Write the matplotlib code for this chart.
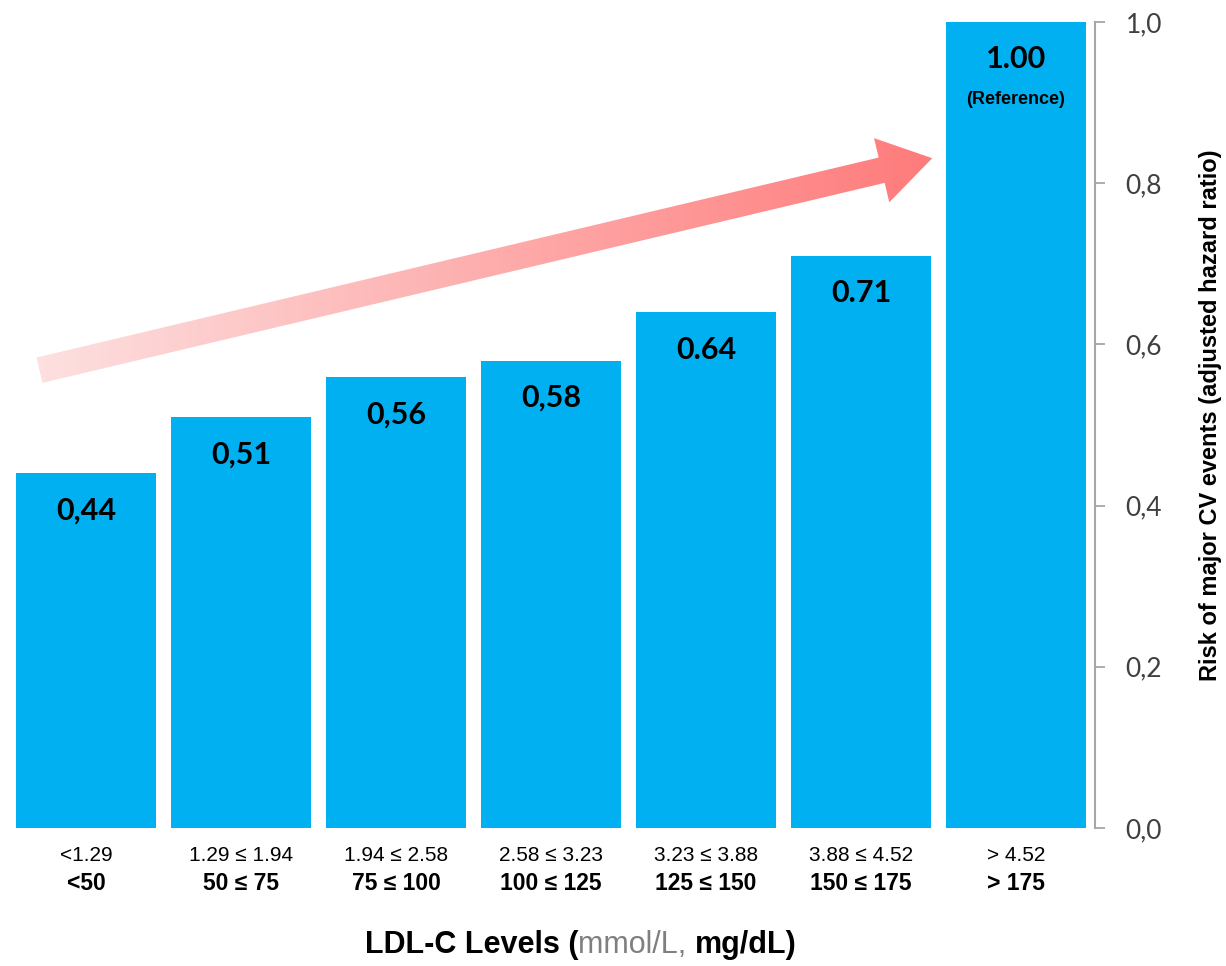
import numpy as np
import matplotlib
matplotlib.use('Agg')
import matplotlib.pyplot as plt
from matplotlib.colors import LinearSegmentedColormap
from matplotlib.patches import Polygon
from matplotlib.offsetbox import TextArea, HPacker, AnnotationBbox
from matplotlib.transforms import blended_transform_factory

# data
mmol_labels = ["<1.29", "1.29 \u2264 1.94", "1.94 \u2264 2.58", "2.58 \u2264 3.23",
               "3.23 \u2264 3.88", "3.88 \u2264 4.52", "> 4.52"]
mgdl_labels = ["<50", "50 \u2264 75", "75 \u2264 100", "100 \u2264 125",
               "125 \u2264 150", "150 \u2264 175", "> 175"]
hazard_ratio = [0.44, 0.51, 0.56, 0.58, 0.64, 0.71, 1.00]
value_text = ["0,44", "0,51", "0,56", "0,58", "0.64", "0.71", "1.00"]
value_notes = ["", "", "", "", "", "", "(Reference)"]
y_ticks = [0.0, 0.2, 0.4, 0.6, 0.8, 1.0]
y_tick_labels = ["0,0", "0,2", "0,4", "0,6", "0,8", "1,0"]

BAR_COLOR = '#00B0F0'
GRID_GREY = '#a6a6a6'
ARIAL = 'Liberation Sans'
CALIBRI = 'Lato'

W, H = 1226, 966
fig = plt.figure(figsize=(W / 100, H / 100), dpi=100)
ax = fig.add_axes([8.5 / W, 1 - 828 / H, (1095 - 8.5) / W, (828 - 22) / H])

x = np.arange(len(hazard_ratio))
ax.bar(x, hazard_ratio, width=0.9, color=BAR_COLOR, clip_on=False)
ax.set_xlim(-0.5, 6.51)
ax.set_ylim(0, 1.0)

# value labels inside the bars
for xi, h, t, note in zip(x, hazard_ratio, value_text, value_notes):
    ax.annotate(t, (xi, h), xytext=(0, -27), textcoords='offset points',
                ha='center', va='center', fontsize=22, fontweight='bold',
                family=CALIBRI, color='black')
    if note:
        ax.annotate(note, (xi, h), xytext=(0, -56), textcoords='offset points',
                    ha='center', va='center', fontsize=13, fontweight='bold',
                    family=ARIAL, color='black')

# axes styling: only the right spine
for side in ['top', 'left', 'bottom']:
    ax.spines[side].set_visible(False)
ax.spines['right'].set_color(GRID_GREY)
ax.spines['right'].set_linewidth(1.5)
ax.yaxis.tick_right()
ax.set_yticks(y_ticks)
ax.set_yticklabels(y_tick_labels, family=CALIBRI, fontsize=19, color='#404040')
ax.tick_params(axis='y', direction='out', length=7, width=1.3, color=GRID_GREY, pad=15)

ax.set_xticks(x)
ax.set_xticklabels(mmol_labels, family=ARIAL, fontsize=15, color='black')
ax.tick_params(axis='x', length=0, pad=13)
trans = blended_transform_factory(ax.transData, ax.transAxes)
for xi, lab in zip(x, mgdl_labels):
    ax.text(xi, (828 - 884) / 806, lab, transform=trans, ha='center', va='center',
            fontsize=16.5, fontweight='bold', family=ARIAL)

# y label on the far right
fig.text(1210 / W, 1 - 415 / H, "Risk of major CV events (adjusted hazard ratio)",
         rotation=90, ha='center', va='center', fontsize=17, fontweight='bold',
         family=ARIAL)

# x label with mixed styles
parts = [
    TextArea("LDL-C Levels (", textprops=dict(fontsize=22, fontweight='bold', family=ARIAL, color='black')),
    TextArea("mmol/L, ", textprops=dict(fontsize=22, family=ARIAL, color='#7f7f7f')),
    TextArea("mg/dL)", textprops=dict(fontsize=22, fontweight='bold', family=ARIAL, color='black')),
]
box = HPacker(children=parts, align='baseline', pad=0, sep=0)
ab = AnnotationBbox(box, (581 / W, 1 - 945 / H), xycoords='figure fraction',
                    frameon=False, box_alignment=(0.5, 0.5))
fig.add_artist(ab)

# gradient arrow, placed relative to the bars
ov = fig.add_axes([0, 0, 1, 1])
ov.set_xlim(0, W)
ov.set_ylim(0, H)
ov.axis('off')

tail = ax.transData.transform((-0.3, 0.568))
tip = ax.transData.transform((5.46, 0.831))
u = (tip - tail) / np.linalg.norm(tip - tail)
n = np.array([-u[1], u[0]])
shaft_half, head_half, head_len = 13, 33, 52
base = tip - head_len * u
pts = np.array([
    tail + shaft_half * n,
    base + shaft_half * n,
    base + head_half * n,
    tip,
    base - head_half * n,
    base - shaft_half * n,
    tail - shaft_half * n,
])
poly = Polygon(pts, closed=True, facecolor='none', edgecolor='none')
ov.add_patch(poly)
cmap = LinearSegmentedColormap.from_list('pinkred', ['#fde0e0', '#ff7b7b'])
grad = np.linspace(0, 1, 256).reshape(1, -1)
im = ov.imshow(grad, cmap=cmap, aspect='auto',
               extent=(pts[:, 0].min(), pts[:, 0].max(), pts[:, 1].min(), pts[:, 1].max()),
               origin='lower')
im.set_clip_path(poly)
ov.set_xlim(0, W)
ov.set_ylim(0, H)

fig.savefig('out.png', dpi=100)
